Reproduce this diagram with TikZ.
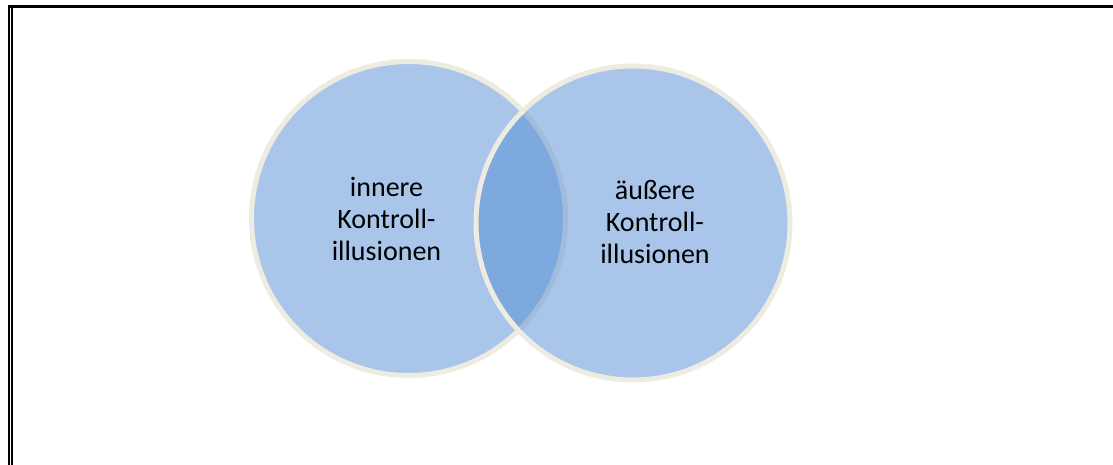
\documentclass[tikz,border=0pt]{standalone}
\usepackage{fontspec}
\setmainfont{Carlito}
\definecolor{vennfill}{HTML}{538DD5}
\definecolor{vennrim}{HTML}{EEECE1}
\begin{document}
\begin{tikzpicture}[x=1pt,y=-1pt,
  vennset/.style={circle, minimum size=314pt, inner sep=0pt,
    fill=vennfill, fill opacity=0.5, draw=vennrim, draw opacity=1, line width=5pt},
  vennlabel/.style={align=center, font=\fontsize{28}{32}\selectfont, text=black, text opacity=1}]
  \useasboundingbox (0,0) rectangle (1113,465);
  % page frame: top rule and double rule on the left
  \coordinate (tl) at (8,6.5);
  \coordinate (tr) at (1113,6.5);
  \coordinate (lo) at (9,5.5);
  \coordinate (lob) at (9,465);
  \coordinate (li) at (12,5.5);
  \coordinate (lib) at (12,465);
  \draw[line width=2.4pt] (tl) -- (tr);
  \draw[line width=2.4pt] (lo) -- (lob);
  \draw[line width=1.5pt] (li) -- (lib);
  % the two overlapping sets
  \node[vennset] (inner) at (408.5,218.5) {};
  \node[vennset] (outer) at (633,223) {};
  \node[vennlabel] (innerlabel) at (386.5,219) {innere\\Kontroll-\\illusionen};
  \node[vennlabel] (outerlabel) at (655,222) {äußere\\Kontroll-\\illusionen};
\end{tikzpicture}
\end{document}
